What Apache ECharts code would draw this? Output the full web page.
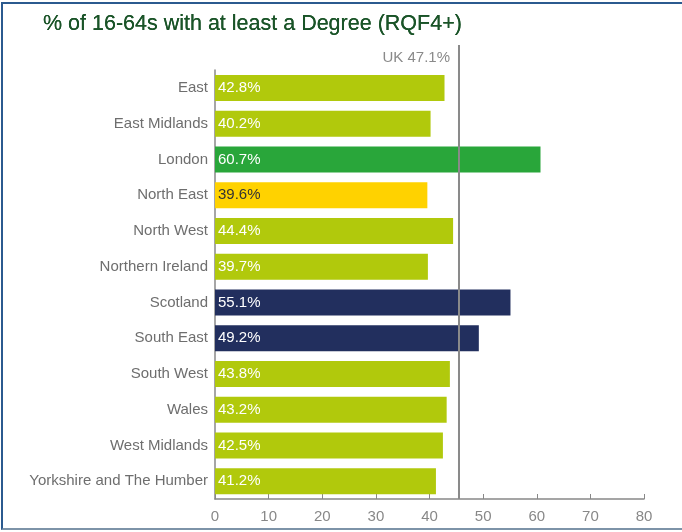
<!DOCTYPE html>
<html>
<head>
<meta charset="utf-8">
<script src="https://cdn.jsdelivr.net/npm/echarts@6/dist/echarts.min.js"></script>
<style>
html,body{margin:0;padding:0;background:#fff;overflow:hidden;}
#frame{position:absolute;left:1px;top:2px;width:690px;height:528px;border-top:2px solid #2b5a8f;border-left:2px solid #2b5a8f;border-bottom:2px solid #7d93a8;border-right:none;box-sizing:border-box;}
#chart{position:absolute;left:0;top:0;width:682px;height:532px;}
</style>
</head>
<body>
<div id="frame"></div>
<div id="chart"></div>
<script>
const titleText = '% of 16-64s with at least a Degree (RQF4+)';
const categories = ['East','East Midlands','London','North East','North West','Northern Ireland','Scotland','South East','South West','Wales','West Midlands','Yorkshire and The Humber'];
const values = [42.8, 40.2, 60.7, 39.6, 44.4, 39.7, 55.1, 49.2, 43.8, 43.2, 42.5, 41.2];
const colorGroups = ['base','base','london','northeast','base','base','navy','navy','base','base','base','base'];
const palette = {base:'#b1c90c', london:'#29a63a', northeast:'#ffd200', navy:'#222f5e'};
const labelColors = {base:'#ffffff', london:'#ffffff', northeast:'#333333', navy:'#ffffff'};
const ukLinePos = 45.5;
const ukLabel = 'UK 47.1%';
const xTicks = [0,10,20,30,40,50,60,70,80];

const chart = echarts.init(document.getElementById('chart'), null, {renderer:'canvas'});
const font = '"Liberation Sans", Arial, Helvetica, sans-serif';

const option = {
  animation:false,
  textStyle:{fontFamily:font},
  title:{text:titleText, left:38, top:8, textStyle:{color:'#1a5428', fontSize:21.5, fontWeight:500, fontFamily:font, textShadowColor:'#1a5428', textShadowBlur:0.4}},
  grid:{left:215, right:38, top:70, bottom:33, containLabel:false},
  xAxis:{type:'value', min:xTicks[0], max:xTicks[xTicks.length-1], interval:10,
    axisLine:{show:true, lineStyle:{color:'#888', width:1.5}},
    axisTick:{show:true, inside:true, length:5, lineStyle:{color:'#888'}},
    splitLine:{show:false},
    axisLabel:{color:'#888', fontSize:15, margin:10, fontFamily:font}},
  yAxis:{type:'category', data:categories, inverse:true,
    axisLine:{show:true, lineStyle:{color:'#888', width:1.5}},
    axisTick:{show:false},
    axisLabel:{color:'#6e6e6e', fontSize:15, margin:7, fontFamily:font}},
  series:[{type:'bar', barWidth:26, z:2,
    data: values.map((v,i)=>({value:v, itemStyle:{color:palette[colorGroups[i]]},
      label:{color:labelColors[colorGroups[i]]}})),
    label:{show:true, position:'insideLeft', distance:3, fontSize:15, fontFamily:font,
      formatter:p=>p.value.toFixed(1)+'%'}
  }]
};
chart.setOption(option);

const ukPt = chart.convertToPixel({gridIndex:0},[ukLinePos, 0]);
const xPix = ukPt[0];
const yBottom = 532-33;
chart.setOption({graphic:[
  {type:'line', z:10, shape:{x1:xPix, y1:45, x2:xPix, y2:yBottom}, style:{stroke:'#8a8a8a', lineWidth:2}},
  {type:'text', z:10, x:xPix-9, y:58, style:{text:ukLabel, fill:'#8a8a8a', font:'15px '+font, textAlign:'right', textVerticalAlign:'middle'}}
]});
</script>
</body>
</html>
